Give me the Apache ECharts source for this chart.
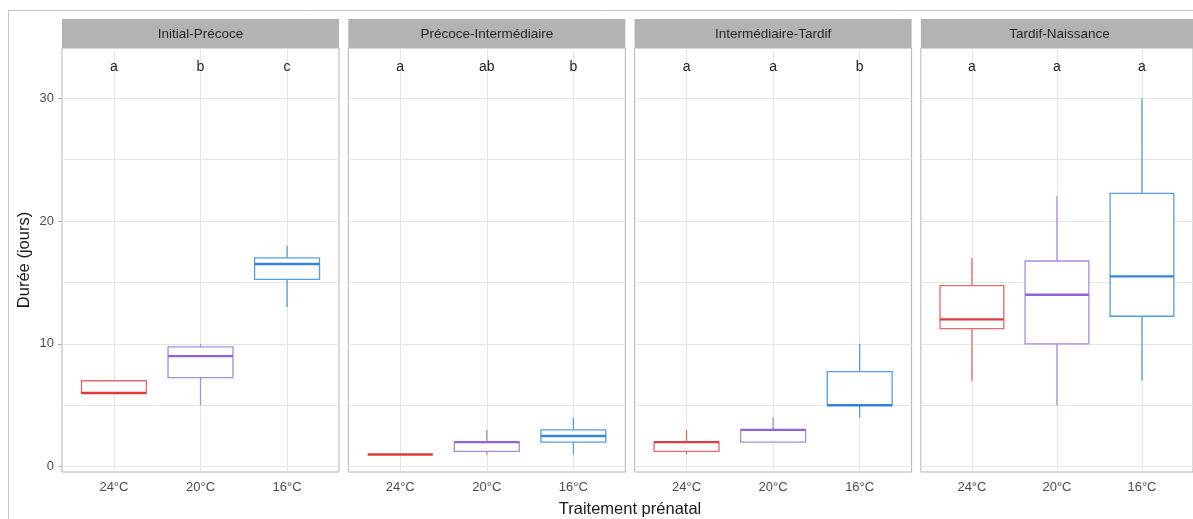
<!DOCTYPE html>
<html>
<head>
<meta charset="utf-8">
<script src="https://cdn.jsdelivr.net/npm/echarts@6/dist/echarts.min.js"></script>
<style>
html,body{margin:0;padding:0;background:#fff;}
#c{width:1193px;height:519px;}
</style>
</head>
<body>
<div id="c"></div>
<script>
// ---- data ----
const facets = ['Initial-Précoce', 'Précoce-Intermédiaire', 'Intermédiaire-Tardif', 'Tardif-Naissance'];
const treatments = ['24°C', '20°C', '16°C'];
// each row: [min, q1, median, q3, max] for 24°C, 20°C, 16°C
const initialPrecoce      = [[6, 6, 6, 7, 7], [5, 7.25, 9, 9.75, 10], [13, 15.25, 16.5, 17, 18]];
const precoceIntermediaire = [[1, 1, 1, 1, 1], [1, 1.25, 2, 2, 3], [1, 2, 2.5, 3, 4]];
const intermediaireTardif  = [[1, 1.25, 2, 2, 3], [2, 2, 3, 3, 4], [4, 5, 5, 7.75, 10]];
const tardifNaissance      = [[7, 11.25, 12, 14.75, 17], [5, 10, 14, 16.75, 22], [7, 12.25, 15.5, 22.25, 30]];
const letters = [['a', 'b', 'c'], ['a', 'ab', 'b'], ['a', 'a', 'b'], ['a', 'a', 'a']];
const letterY = 32.5;
const yTicks = [0, 10, 20, 30];
const yGrid = [0, 5, 10, 15, 20, 25, 30];
const xPos = [1, 2, 3];

const facetData = [initialPrecoce, precoceIntermediaire, intermediaireTardif, tardifNaissance];

// ---- styling ----
const FONT = "'Liberation Sans', Arial, sans-serif";
const boxColors = ['#E96A6D', '#AA8AE2', '#559DE4'];
const medColors = ['#DC3C40', '#9262D8', '#3483D9'];
const panelLeft0 = 62, panelStep = 286.3, panelW = 277, panelTop = 48, panelH = 424;
const stripTop = 19, stripH = 29;

const grids = [], xAxes = [], yAxes = [], series = [], graphics = [];

graphics.push({
  type: 'rect', silent: true, z: -10,
  shape: { x: 8.5, y: 10.5, width: 1300, height: 600 },
  style: { fill: 'none', stroke: '#C4C4C4', lineWidth: 1 }
});

facets.forEach((name, f) => {
  const left = panelLeft0 + f * panelStep;
  grids.push({ left: left, top: panelTop, width: panelW, height: panelH,
    show: true, borderColor: '#B3B3B3', borderWidth: 1, backgroundColor: '#fff', containLabel: false });
  xAxes.push({
    type: 'value', gridIndex: f, min: 0.4, max: 3.6,
    axisLine: { show: false },
    axisTick: { show: true, length: 4, customValues: xPos, lineStyle: { color: '#B3B3B3', width: 1 } },
    axisLabel: { show: true, customValues: xPos, margin: 9, color: '#4D4D4D', fontSize: 13, fontFamily: FONT,
      formatter: v => treatments[Math.round(v) - 1] || '' },
    splitLine: { show: false }
  });
  yAxes.push({
    type: 'value', gridIndex: f, min: -0.43, max: 34.09,
    axisLine: { show: false },
    axisTick: { show: f === 0, length: 4, customValues: yTicks, lineStyle: { color: '#B3B3B3', width: 1 } },
    axisLabel: { show: f === 0, customValues: yTicks, margin: 8, color: '#4D4D4D', fontSize: 13, fontFamily: FONT },
    splitLine: { show: false }
  });
  // gridlines
  series.push({
    type: 'line', xAxisIndex: f, yAxisIndex: f, data: [], z: 1, silent: true,
    markLine: {
      z: 1, silent: true, symbol: ['none', 'none'], animation: false,
      label: { show: false },
      lineStyle: { color: '#E6E6E6', width: 1, type: 'solid' },
      emphasis: { disabled: true },
      data: yGrid.map(v => ({ yAxis: v })).concat(xPos.map(v => ({ xAxis: v })))
    }
  });
  // boxes
  series.push({
    type: 'custom', xAxisIndex: f, yAxisIndex: f, z: 10, silent: true,
    data: facetData[f].map((s, i) => [xPos[i], s[0], s[1], s[2], s[3], s[4], i]),
    encode: { x: 0, y: [1, 2, 3, 4, 5] },
    renderItem: (params, api) => {
      const x = api.value(0), ci = api.value(6);
      const pLo = api.coord([x, api.value(1)]);
      const pQ1 = api.coord([x, api.value(2)]);
      const pMed = api.coord([x, api.value(3)]);
      const pQ3 = api.coord([x, api.value(4)]);
      const pHi = api.coord([x, api.value(5)]);
      const w = api.size([0.75, 0])[0];
      const cx = pLo[0];
      const col = boxColors[ci], mc = medColors[ci];
      return {
        type: 'group',
        children: [
          { type: 'line', shape: { x1: cx, y1: pHi[1], x2: cx, y2: pQ3[1] }, style: { stroke: col, lineWidth: 1.3 } },
          { type: 'line', shape: { x1: cx, y1: pQ1[1], x2: cx, y2: pLo[1] }, style: { stroke: col, lineWidth: 1.3 } },
          { type: 'rect', shape: { x: cx - w / 2, y: pQ3[1], width: w, height: pQ1[1] - pQ3[1] },
            style: { fill: '#fff', stroke: col, lineWidth: 1.3 } },
          { type: 'line', shape: { x1: cx - w / 2, y1: pMed[1], x2: cx + w / 2, y2: pMed[1] },
            style: { stroke: mc, lineWidth: 2.4 } }
        ]
      };
    }
  });
  // letters
  series.push({
    type: 'custom', xAxisIndex: f, yAxisIndex: f, z: 11, silent: true,
    data: xPos.map((x, i) => [x, letterY, i]),
    renderItem: (params, api) => {
      const p = api.coord([api.value(0), api.value(1)]);
      return { type: 'text', x: p[0], y: p[1],
        style: { text: letters[f][api.value(2)], fill: '#222', fontSize: 14, fontFamily: FONT,
          align: 'center', verticalAlign: 'middle' } };
    }
  });
  // strip
  graphics.push({ type: 'rect', silent: true, shape: { x: left, y: stripTop, width: panelW, height: stripH },
    style: { fill: '#B3B3B3' } });
  graphics.push({ type: 'text', silent: true, x: left + panelW / 2, y: stripTop + stripH / 2 + 0.5,
    style: { text: name, fill: '#262626', fontSize: 13.5, fontFamily: FONT, align: 'center', verticalAlign: 'middle' } });
});

graphics.push({ type: 'text', silent: true, x: 24, y: 260, rotation: Math.PI / 2,
  style: { text: 'Durée (jours)', fill: '#1A1A1A', fontSize: 16.5, fontFamily: FONT, align: 'center', verticalAlign: 'middle' } });
graphics.push({ type: 'text', silent: true, x: 630, y: 509,
  style: { text: 'Traitement prénatal', fill: '#1A1A1A', fontSize: 16.5, fontFamily: FONT, align: 'center', verticalAlign: 'middle' } });

const chart = echarts.init(document.getElementById('c'), null, { renderer: 'canvas' });
chart.setOption({
  animation: false,
  backgroundColor: '#fff',
  grid: grids, xAxis: xAxes, yAxis: yAxes, series: series, graphic: graphics
});
</script>
</body>
</html>
